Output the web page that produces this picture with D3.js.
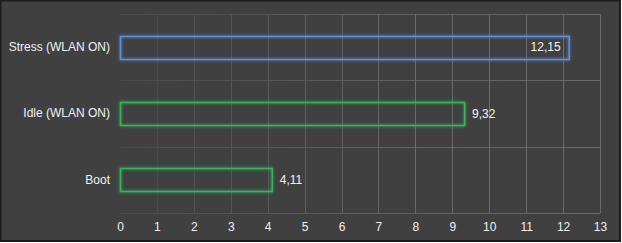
<!DOCTYPE html>
<html>
<head>
<meta charset="utf-8">
<script src="https://cdn.jsdelivr.net/npm/d3@7"></script>
<style>
  body { margin: 0; background: #ffffff; }
  text { font-family: "Liberation Sans", Arial, sans-serif; }
</style>
</head>
<body>
<div id="chart"></div>
<script>
// bar categories, values and colours
const categories = ["Stress (WLAN ON)", "Idle (WLAN ON)", "Boot"];
const values = [12.15, 9.32, 4.11];
const barColors = ["#5d8fd8", "#2fb85c", "#2fb85c"];
const tickValues = d3.range(0, 14);

const width = 622;
const height = 243;
const margin = { top: 14, right: 22, bottom: 30, left: 120 };
const font = "'Liberation Sans', Arial, sans-serif";

const svg = d3.select("#chart")
    .append("svg")
    .attr("width", width)
    .attr("height", height);

// background + dark frame
svg.append("rect")
    .attr("x", 0.5).attr("y", 0.5)
    .attr("width", width - 2.5).attr("height", height - 2.5)
    .attr("fill", "#404040")
    .attr("stroke", "#1c1c1c")
    .attr("stroke-width", 2);

const defs = svg.append("defs");

// grid fades in from the left
const grad = defs.append("linearGradient")
    .attr("id", "gridFade")
    .attr("gradientUnits", "userSpaceOnUse")
    .attr("x1", margin.left).attr("x2", width - margin.right)
    .attr("y1", 0).attr("y2", 0);
grad.append("stop").attr("offset", "0%").attr("stop-color", "#4a4a4a");
grad.append("stop").attr("offset", "45%").attr("stop-color", "#5c5c5c");
grad.append("stop").attr("offset", "100%").attr("stop-color", "#6a6a6a");

// glow around bar outlines
const glow = defs.append("filter")
    .attr("id", "glow")
    .attr("x", "-10%").attr("y", "-50%")
    .attr("width", "120%").attr("height", "200%");
glow.append("feGaussianBlur")
    .attr("in", "SourceGraphic")
    .attr("stdDeviation", 1.8)
    .attr("result", "blur");
const merge = glow.append("feMerge");
merge.append("feMergeNode").attr("in", "blur");
merge.append("feMergeNode").attr("in", "SourceGraphic");

const x = d3.scaleLinear()
    .domain([0, 13])
    .range([margin.left, width - margin.right]);

const y = d3.scaleBand()
    .domain(categories)
    .range([margin.top, height - margin.bottom])
    .paddingInner(0.65)
    .paddingOuter(0.325);

// gridlines
const bandEdges = [margin.top, ...categories.slice(1).map(c => y(c) - y.step() * y.paddingInner() / 2), height - margin.bottom];
svg.selectAll("line.hgrid")
    .data(bandEdges)
    .enter()
    .append("line")
    .attr("class", "hgrid")
    .attr("x1", x(0)).attr("x2", x(13))
    .attr("y1", d => Math.round(d) + 0.5)
    .attr("y2", d => Math.round(d) + 0.5)
    .attr("stroke", "url(#gridFade)");

svg.selectAll("line.vgrid")
    .data(tickValues.slice(1))
    .enter()
    .append("line")
    .attr("class", "vgrid")
    .attr("x1", d => Math.round(x(d)) + 0.5)
    .attr("x2", d => Math.round(x(d)) + 0.5)
    .attr("y1", margin.top)
    .attr("y2", height - margin.bottom)
    .attr("stroke", d => d3.interpolateRgb("#474747", "#6a6a6a")(Math.min(1, d / 8)));

// x axis labels
const xAxis = svg.append("g")
    .attr("transform", `translate(0,${height - margin.bottom})`)
    .call(d3.axisBottom(x).tickValues(tickValues).tickSize(0).tickPadding(9).tickFormat(d3.format("d")));
xAxis.select(".domain").remove();
xAxis.selectAll("text")
    .attr("fill", "#f0f0f0")
    .style("font-size", "12px")
    .style("font-family", font);

// category labels
const yAxis = svg.append("g")
    .attr("transform", `translate(${margin.left},0)`)
    .call(d3.axisLeft(y).tickSize(0).tickPadding(10));
yAxis.select(".domain").remove();
yAxis.selectAll("text")
    .attr("fill", "#f0f0f0")
    .style("font-size", "12px")
    .style("font-family", font);

// bars
svg.selectAll("rect.bar")
    .data(values)
    .enter()
    .append("rect")
    .attr("class", "bar")
    .attr("x", x(0) + 0.5)
    .attr("y", (d, i) => Math.round(y(categories[i])) + 0.5)
    .attr("width", d => x(d) - x(0))
    .attr("height", Math.round(y.bandwidth()))
    .attr("fill", "none")
    .attr("stroke", (d, i) => barColors[i])
    .attr("stroke-width", 1.5)
    .attr("filter", "url(#glow)");

// value labels: inside the bar if it is near the end of the axis
const fmt = d => d3.format(".2f")(d).replace(".", ",");
svg.selectAll("text.val")
    .data(values)
    .enter()
    .append("text")
    .attr("class", "val")
    .attr("x", d => d > 11 ? x(d) - 8 : x(d) + 8)
    .attr("y", (d, i) => y(categories[i]) + y.bandwidth() / 2)
    .attr("dy", "0.35em")
    .attr("text-anchor", d => d > 11 ? "end" : "start")
    .attr("fill", "#f4f4f4")
    .style("font-size", "12px")
    .style("font-family", font)
    .text(fmt);
</script>
</body>
</html>
